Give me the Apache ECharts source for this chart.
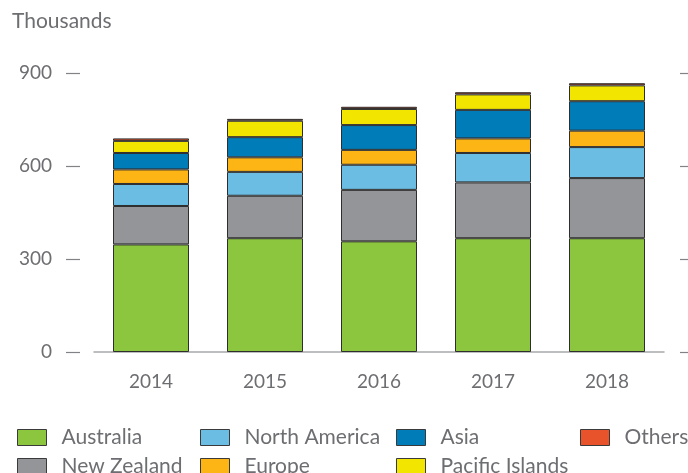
<!DOCTYPE html>
<html>
<head>
<meta charset="utf-8">
<script src="https://cdn.jsdelivr.net/npm/echarts@6/dist/echarts.min.js"></script>
<style>
  html, body { margin: 0; padding: 0; background: #fff; }
  #chart { width: 688px; height: 473px; }
</style>
</head>
<body>
<div id="chart"></div>
<script>
// categories and values (thousands)
const years = ['2014', '2015', '2016', '2017', '2018'];
const australia = [347, 367, 357, 367, 367];
const newZealand = [124, 137, 166, 180, 194];
const northAmerica = [71, 77, 81, 95, 100];
const europe = [47, 47, 48, 47, 53];
const asia = [53, 65, 80, 92, 95];
const pacificIslands = [39, 53, 52, 50, 51];
const others = [8, 6, 7, 7, 7];
const yTicks = [0, 300, 600, 900];

const textGrey = '#6d6e71';
const fontFamily = 'Lato, "Open Sans", sans-serif';

const chart = echarts.init(document.getElementById('chart'));

// series list: name, data, colour
const seriesDefs = [
  ['Australia', australia, '#8cc63f'],
  ['New Zealand', newZealand, '#939598'],
  ['North America', northAmerica, '#6bbde3'],
  ['Europe', europe, '#fdb515'],
  ['Asia', asia, '#007db8'],
  ['Pacific Islands', pacificIslands, '#f2e500'],
  ['Others', others, '#e8532b']
];

const legendBase = {
  orient: 'vertical',
  top: 427,
  height: 80,
  padding: 0,
  itemWidth: 29,
  itemHeight: 16,
  itemGap: 8,
  icon: 'rect',
  textStyle: { color: textGrey, fontSize: 21, fontFamily: fontFamily, padding: [0, 0, 0, 10] },
  itemStyle: { borderColor: '#3a3a3a', borderWidth: 1 }
};

chart.setOption({
  animation: false,
  title: {
    text: 'Thousands',
    left: 7,
    top: 6,
    textStyle: { color: textGrey, fontSize: 21, fontWeight: 'normal', fontFamily: fontFamily }
  },
  legend: [
    Object.assign({}, legendBase, { left: 17, data: ['Australia', 'New Zealand'] }),
    Object.assign({}, legendBase, { left: 200, data: ['North America', 'Europe'] }),
    Object.assign({}, legendBase, { left: 396, data: ['Asia', 'Pacific Islands'] }),
    Object.assign({}, legendBase, { left: 580, data: ['Others'] })
  ],
  grid: { left: 94, right: 24, top: 73, bottom: 121 },
  xAxis: {
    type: 'category',
    data: years,
    axisLine: { lineStyle: { color: '#a7a9ac', width: 1.5 } },
    axisTick: { show: false },
    axisLabel: { color: textGrey, fontSize: 19, fontFamily: fontFamily, margin: 20 }
  },
  yAxis: [
    {
      type: 'value',
      min: 0,
      max: yTicks[yTicks.length - 1],
      interval: 300,
      offset: 14,
      axisLine: { show: false },
      axisTick: { show: true, length: 14, lineStyle: { color: '#808285', width: 1.2 } },
      axisLabel: { color: textGrey, fontSize: 19, fontFamily: fontFamily, margin: 28 },
      splitLine: { show: false }
    },
    {
      type: 'value',
      position: 'right',
      min: 0,
      max: yTicks[yTicks.length - 1],
      interval: 300,
      offset: 16,
      axisLine: { show: false },
      axisTick: { show: true, length: 8, lineStyle: { color: '#808285', width: 1.2 } },
      axisLabel: { show: false },
      splitLine: { show: false }
    }
  ],
  series: seriesDefs.map(([name, data, color]) => ({
    name: name,
    type: 'bar',
    stack: 'total',
    data: data,
    barWidth: 76,
    itemStyle: { color: color, borderColor: '#2e2e2e', borderWidth: 1 }
  }))
});
</script>
</body>
</html>
